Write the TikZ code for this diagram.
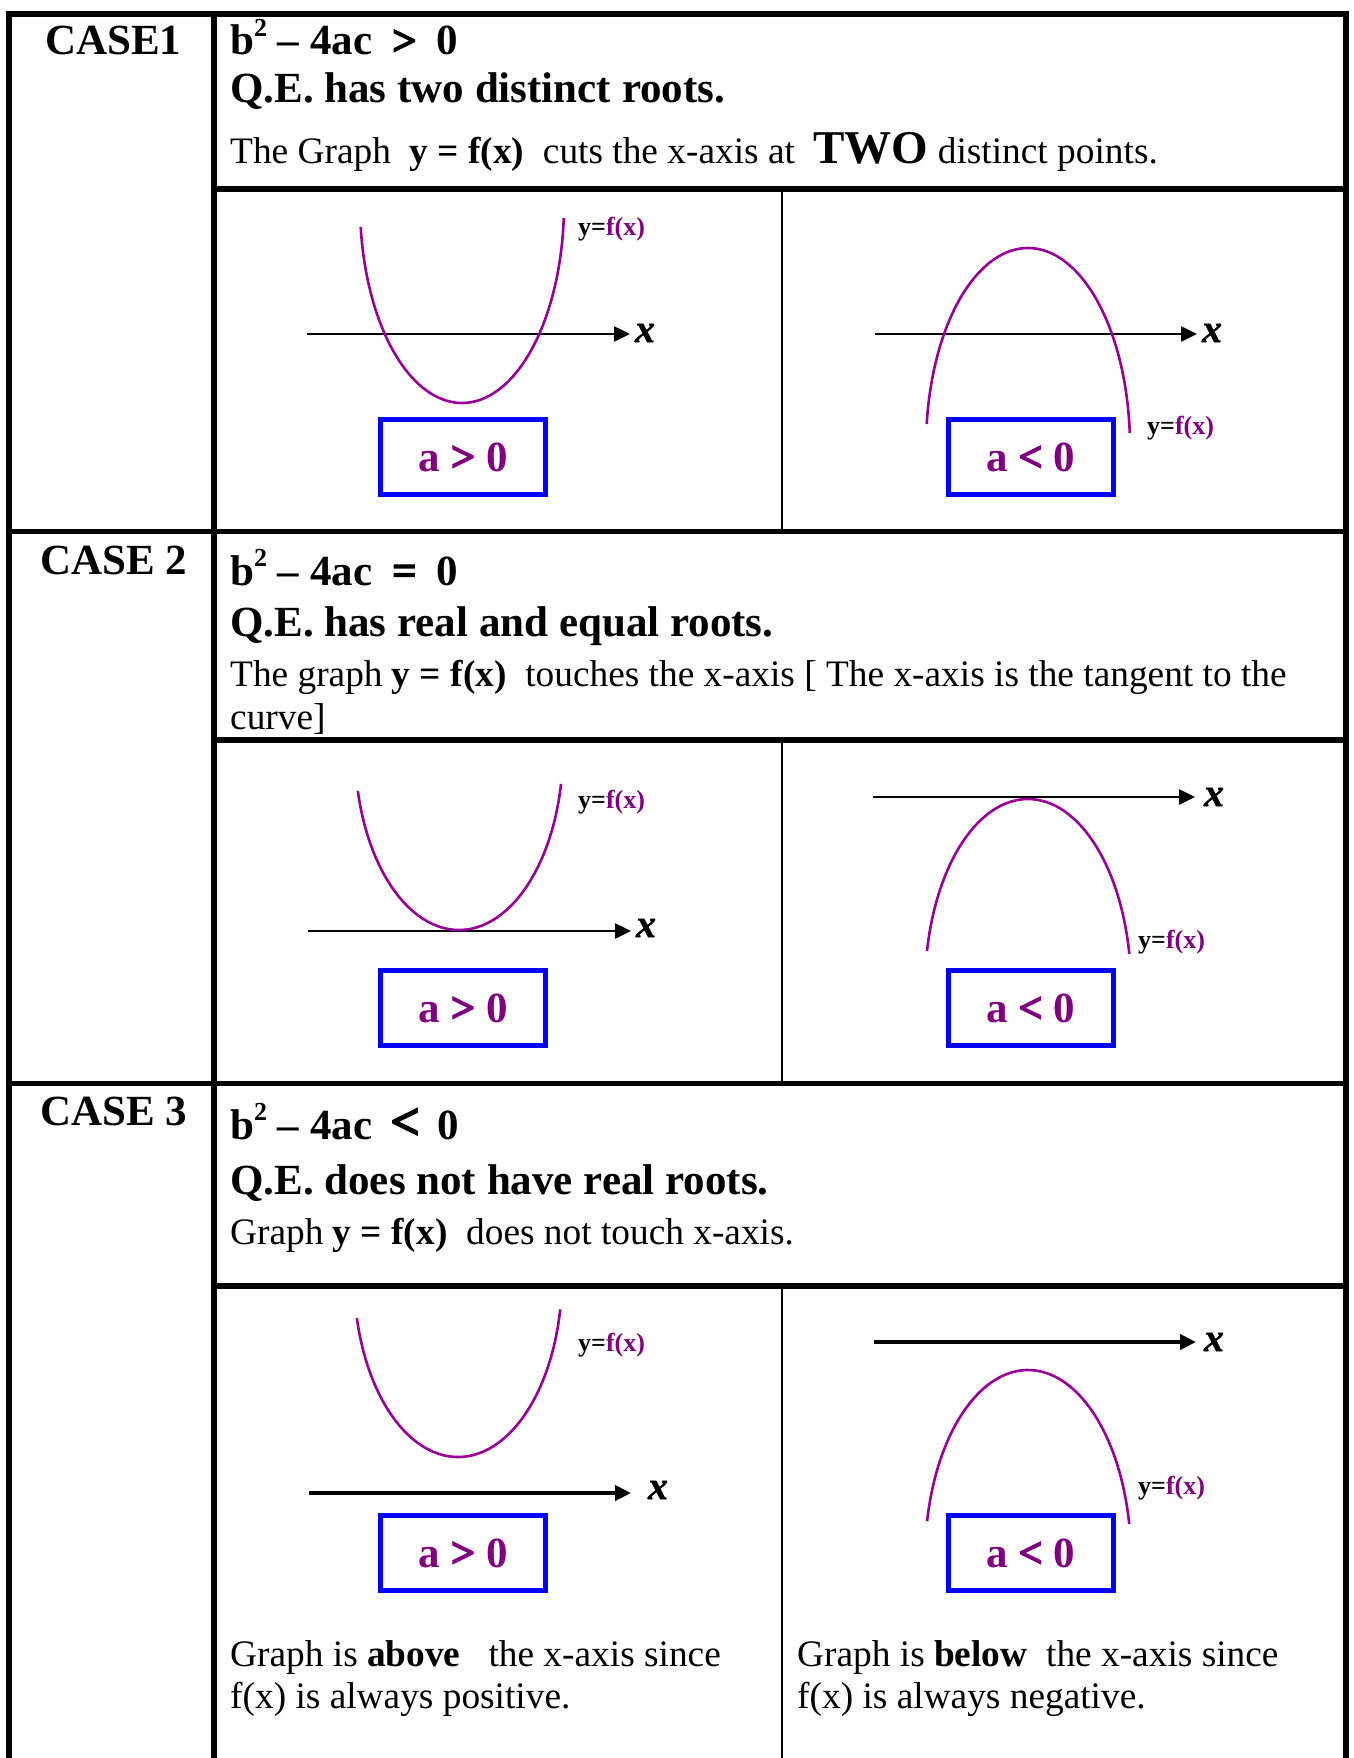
\documentclass[tikz,border=0pt]{standalone}
\usepackage{fontspec}
\setmainfont{Liberation Serif}
\newfontface\relb[FakeBold=3]{Liberation Serif Bold}
\newfontface\bix[FakeBold=1]{Liberation Serif Bold Italic}
\usetikzlibrary{arrows.meta}
\definecolor{pur}{RGB}{128,0,128}
\definecolor{curv}{RGB}{153,0,153}
\definecolor{bx}{RGB}{0,0,255}
\newcommand{\sqtwo}{\raisebox{0.42em}{\fontsize{26}{26}\selectfont 2}}
\begin{document}
\begin{tikzpicture}[x=1pt,y=-1pt,
  tline/.style={line width=5.5pt},
  thinline/.style={line width=2pt},
  pcurve/.style={curv, line width=2.6pt},
  axisA/.style={line width=2.5pt, -{Triangle[length=16pt,width=15pt]}},
  axisB/.style={line width=4pt, -{Triangle[length=16pt,width=15pt]}},
  abox/.style={draw=bx, line width=5pt, minimum width=165pt, minimum height=75pt, inner sep=0pt, text=pur, font=\fontsize{43}{50}\selectfont\bfseries},
  xlab/.style={font=\fontsize{40}{40}\bix, inner sep=0pt},
  flab/.style={font=\fontsize{26}{30}\selectfont\bfseries, anchor=west, inner sep=0pt},
  head/.style={font=\fontsize{43}{50}\selectfont\bfseries, anchor=base west, inner sep=0pt},
  body/.style={font=\fontsize{37.35}{43}\selectfont, anchor=base west, inner sep=0pt},
]
\fill[white] (0,0) rectangle (1353,1758);
\path[use as bounding box] (0,0) rectangle (1353,1758);

% ---- table frame ----
\draw[tline, line join=miter] (9,1758) -- (9,14) -- (1346,14) -- (1346,1758);
\draw[tline] (214,14) -- (214,1758);
\draw[tline] (214,189) -- (1346,189);
\draw[tline] (9,531.5) -- (1346,531.5);
\draw[tline] (214,740) -- (1346,740);
\draw[tline] (9,1083.5) -- (1346,1083.5);
\draw[tline] (214,1286) -- (1346,1286);
\draw[thinline] (781.5,189) -- (781.5,531.5);
\draw[thinline] (781.5,740) -- (781.5,1083.5);
\draw[thinline] (781.5,1286) -- (781.5,1758);

% ---- row 1 text ----
\node[head] (c1) at (45,55) {CASE1};
\node[head] (d1) at (230,55) {b\sqtwo\ – 4ac\hspace{20pt}{\relb >}\hspace{20pt}0};
\node[head] (q1) at (230,103) {Q.E. has two distinct roots.};
\node[body] (t1) at (230,163) {The Graph \ \textbf{y = f(x)} \ cuts the x-axis at \ {\fontsize{47}{50}\selectfont\bfseries TWO} distinct points.};

% ---- row 1 graphs ----
\draw[axisA] (307,334) -- (630,334);
\node[xlab] (x1) at (645,333) {x};
\draw[pcurve] plot[domain=-83.36:85.96, samples=80, smooth] ({462+102*sin(\x)}, {403-199*(1-cos(\x))});
\node[flab] (f1) at (578,229) {y=\textcolor{pur}{f(x)}};
\node[abox] (b1) at (463,457) {a {\relb >} 0};

\draw[axisA] (875,334) -- (1197,334);
\node[xlab] (x2) at (1212,333) {x};
\draw[pcurve] plot[domain=-83.36:85.96, samples=80, smooth] ({1028+102*sin(\x)}, {248+199*(1-cos(\x))});
\node[flab] (f2) at (1147,428) {y=\textcolor{pur}{f(x)}};
\node[abox] (b2) at (1030.5,457) {a {\relb <} 0};

% ---- row 2 text ----
\node[head] (c2) at (40,574) {CASE 2};
\node[head] (d2) at (230,585) {b\sqtwo\ – 4ac\hspace{20pt}{\relb =}\hspace{20pt}0};
\node[head] (q2) at (230,636) {Q.E. has real and equal roots.};
\node[body] (t2a) at (230,686) {The graph \textbf{y = f(x)} \ touches the x-axis [ The x-axis is the tangent to the};
\node[body] (t2b) at (230,729) {curve]};

% ---- row 2 graphs ----
\draw[axisA] (308,931) -- (631,931);
\node[xlab] (x3) at (646,928) {x};
\draw[pcurve] plot[domain=-76.6:78.9, samples=80, smooth] ({459+104*sin(\x)}, {930-181*(1-cos(\x))});
\node[flab] (f3) at (578,802) {y=\textcolor{pur}{f(x)}};
\node[abox] (b3) at (463,1008) {a {\relb >} 0};

\draw[axisA] (873,797) -- (1195,797);
\node[xlab] (x4) at (1214,797) {x};
\draw[pcurve] plot[domain=-78.7:79.6, samples=80, smooth] ({1028+103*sin(\x)}, {799+189*(1-cos(\x))});
\node[flab] (f4) at (1138,942) {y=\textcolor{pur}{f(x)}};
\node[abox] (b4) at (1030.5,1008) {a {\relb <} 0};

% ---- row 3 text ----
\node[head] (c3) at (40,1125) {CASE 3};
\node[head] (d3) at (230,1139) {b\sqtwo\ – 4ac\hspace{18pt}{\relb\fontsize{52}{52}\selectfont <}\hspace{18pt}0};
\node[head] (q3) at (230,1194) {Q.E. does not have real roots.};
\node[body] (t3) at (230,1244) {Graph \textbf{y = f(x)} \ does not touch x-axis.};

% ---- row 3 graphs ----
\draw[axisB] (309,1493) -- (631,1493);
\node[xlab] (x5) at (658,1490) {x};
\draw[pcurve] plot[domain=-76.6:79.4, samples=80, smooth] ({458+104*sin(\x)}, {1457-181*(1-cos(\x))});
\node[flab] (f5) at (578,1345) {y=\textcolor{pur}{f(x)}};
\node[abox] (b5) at (463,1553) {a {\relb >} 0};

\draw[axisB] (874,1342) -- (1196,1342);
\node[xlab] (x6) at (1214,1342) {x};
\draw[pcurve] plot[domain=-78.5:79.3, samples=80, smooth] ({1028+103*sin(\x)}, {1370+189*(1-cos(\x))});
\node[flab] (f6) at (1138,1488) {y=\textcolor{pur}{f(x)}};
\node[abox] (b6) at (1030.5,1553) {a {\relb <} 0};

\node[body] (ba1) at (230,1666) {Graph is \textbf{above} \ \ the x-axis since};
\node[body] (ba2) at (230,1708) {f(x) is always positive.};
\node[body] (bb1) at (797,1666) {Graph is \textbf{below} \ the x-axis since};
\node[body] (bb2) at (797,1708) {f(x) is always negative.};
\end{tikzpicture}
\end{document}
